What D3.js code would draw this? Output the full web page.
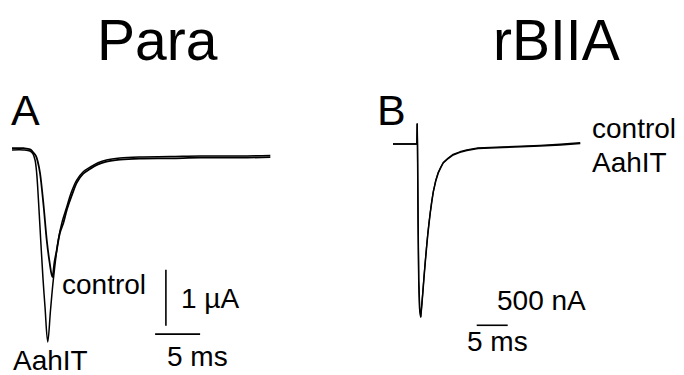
<!DOCTYPE html>
<html>
<head>
<meta charset="utf-8">
<script src="https://cdn.jsdelivr.net/npm/d3@7"></script>
<style>
  body { margin: 0; background: #fff; }
  svg text { font-family: "Liberation Sans", Arial, sans-serif; fill: #000; }
</style>
</head>
<body>
<div class="vis"></div>
<script>
// panel A (Para) traces: time in ms, current in uA
var paraTime    = [0, 1.3, 2.0, 2.33, 2.56, 2.74, 2.94, 3.19, 3.44, 3.67, 3.97, 4.28, 4.59, 5.14, 5.56, 6.08, 6.56, 7.19, 7.89, 8.67, 9.56, 10.5, 12, 14.2, 17.6, 20.9, 25.3, 28.7];
var paraAahIT   = [0.02, 0.02, 0, -0.05, -0.16, -0.39, -0.88, -1.59, -2.27, -2.79, -3.41, -2.84, -2.30, -1.59, -1.27, -1.0, -0.75, -0.52, -0.375, -0.29, -0.21, -0.16, -0.125, -0.107, -0.1, -0.09, -0.09, -0.08];
var paraCtlTime = [0, 1.3, 2.0, 2.33, 2.67, 2.89, 3.11, 3.5, 3.86, 4.17, 4.48, 4.72, 4.97, 5.33, 5.7, 6.11, 6.67, 7.22, 7.89, 8.67, 9.56, 10.5, 12, 14.2, 17.6, 20.9, 25.3, 28.7];
var paraControl = [0.05, 0.05, 0.03, -0.02, -0.09, -0.21, -0.39, -0.96, -1.59, -1.98, -2.25, -1.98, -1.77, -1.46, -1.29, -1.04, -0.78, -0.56, -0.41, -0.32, -0.24, -0.19, -0.155, -0.135, -0.13, -0.12, -0.12, -0.11];

// panel B (rBIIA) traces: time in ms, current in nA
var rbTime    = [0, 3.85, 3.9, 3.95, 4.05, 4.15, 4.3, 4.47, 4.6, 4.8, 5.0, 5.2, 5.4, 5.6, 5.8, 6.0, 6.25, 6.5, 6.9, 7.3, 7.7, 8.1, 8.9, 9.7, 10.8, 11.9, 13.7, 15.7, 17.7, 20.7, 23.7, 27, 30.2];
var rbControl = [0, 0, 227, 0, -900, -1550, -1880, -1966, -1870, -1700, -1520, -1350, -1190, -1040, -910, -790, -660, -545, -420, -330, -270, -216, -165, -125, -95, -74, -51, -45, -40, -32, -23, -10, 6];
var rbAahIT   = [0, 0, 227, 0, -900, -1560, -1890, -1960, -1860, -1690, -1505, -1335, -1175, -1025, -895, -780, -650, -540, -410, -320, -262, -210, -160, -118, -88, -66, -44, -38, -33, -25, -16, -3, 14];

// labels
var titles = ["Para", "rBIIA"];
var panelLabels = ["A", "B"];
var scaleA = { dt: 5, di: 1, tLabel: "5 ms", iLabel: "1 \u00b5A" };
var scaleB = { dt: 5, tLabel: "5 ms", iLabel: "500 nA" };

var width = 684, height = 375;

var svg = d3.select(".vis")
    .append("svg")
    .attr("width", width)
    .attr("height", height);

svg.append("rect").attr("width", width).attr("height", height).attr("fill", "#fff");

// scales
var xA = d3.scaleLinear().domain([0, 5]).range([12, 57]);
var yA = d3.scaleLinear().domain([0, -1]).range([151, 207]);
var xB = d3.scaleLinear().domain([0, 5]).range([393, 424]);
var yB = d3.scaleLinear().domain([0, -500]).range([144, 188]);

var lineA = d3.line().x(d => xA(d[0])).y(d => yA(d[1])).curve(d3.curveCatmullRom.alpha(0.5));
var lineB = d3.line().x(d => xB(d[0])).y(d => yB(d[1]));

function trace(line, t, v, w) {
    svg.append("path")
        .datum(d3.zip(t, v))
        .attr("d", line)
        .attr("fill", "none")
        .attr("stroke", "#000")
        .attr("stroke-width", w)
        .attr("stroke-linejoin", "round");
}

trace(lineA, paraTime, paraAahIT, 1.5);
trace(lineA, paraCtlTime, paraControl, 1.8);
trace(lineB, rbTime, rbControl, 1.5);
trace(lineB, rbTime, rbAahIT, 1.3);

// titles and panel letters
svg.selectAll(".title")
    .data(titles)
    .enter()
    .append("text")
    .attr("class", "title")
    .attr("x", (d, i) => i ? 493 : 97)
    .attr("y", 60)
    .style("font-size", "57px")
    .text(d => d);

svg.selectAll(".plabel")
    .data(panelLabels)
    .enter()
    .append("text")
    .attr("class", "plabel")
    .attr("x", (d, i) => i ? 377 : 11)
    .attr("y", 125)
    .style("font-size", "43px")
    .text(d => d);

function label(x, y, s) {
    svg.append("text")
        .attr("x", x)
        .attr("y", y)
        .style("font-size", "28px")
        .text(s);
}

// trace labels
label(62, 294, "control");
label(13, 370, "AahIT");
label(592, 138, "control");
label(592, 172, "AahIT");

// scale bars, panel A
var sbA = { t: 15.9, i: -3.27 };
svg.append("line")
    .attr("x1", xA(sbA.t)).attr("x2", xA(sbA.t + scaleA.dt))
    .attr("y1", yA(sbA.i)).attr("y2", yA(sbA.i))
    .attr("stroke", "#000").attr("stroke-width", 1.6);
svg.append("line")
    .attr("x1", xA(17.1)).attr("x2", xA(17.1))
    .attr("y1", yA(-3.12)).attr("y2", yA(-3.12 + scaleA.di))
    .attr("stroke", "#000").attr("stroke-width", 1.6);
label(181, 308, scaleA.iLabel);
label(167, 366, scaleA.tLabel);

// scale bar, panel B
var sbB = { t: 13.5, i: -2060 };
svg.append("line")
    .attr("x1", xB(sbB.t)).attr("x2", xB(sbB.t + scaleB.dt))
    .attr("y1", yB(sbB.i)).attr("y2", yB(sbB.i))
    .attr("stroke", "#000").attr("stroke-width", 1.6);
label(497, 310, scaleB.iLabel);
label(467, 351, scaleB.tLabel);
</script>
</body>
</html>
